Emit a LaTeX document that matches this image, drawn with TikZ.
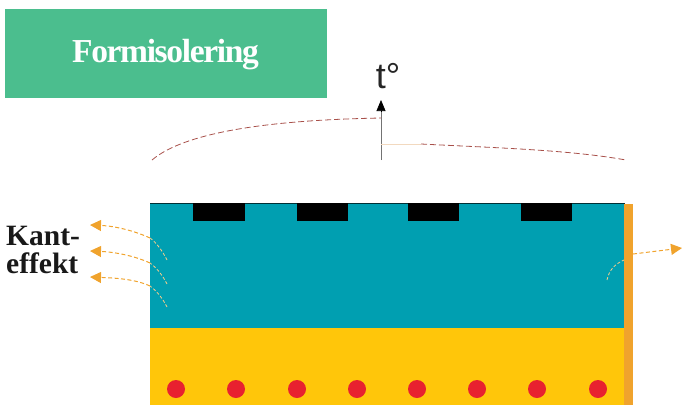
\documentclass[tikz,border=0pt]{standalone}
\usepackage{fontspec}
\setmainfont{Liberation Serif}
\setsansfont{Liberation Sans}
\usetikzlibrary{arrows.meta}
\definecolor{titlegreen}{HTML}{4BBE8E}
\definecolor{blockteal}{HTML}{009FB1}
\definecolor{blockyellow}{HTML}{FFC60A}
\definecolor{edgeorange}{HTML}{F0A32D}
\definecolor{dotred}{HTML}{E8212F}
\definecolor{curvered}{HTML}{A8504A}
\tikzset{
  heatarrow/.style={edgeorange, dash pattern=on 4pt off 2.5pt, line width=1pt, -{Triangle[length=11pt,width=11pt]}},
  heatinner/.style={edgeorange!55!white, densely dashed, line width=0.8pt},
  tempcurve/.style={curvered, dash pattern=on 6pt off 3pt, line width=0.8pt},
  padbox/.style={fill=black, inner sep=0pt, minimum height=18pt, anchor=north},
  wiredot/.style={circle, fill=dotred, inner sep=0pt, minimum size=18pt},
}
\begin{document}
\begin{tikzpicture}[x=1pt, y=-1pt, >=stealth]
	\useasboundingbox (0,0) rectangle (682,405);
	% Title
	\node[fill=titlegreen, text=white, inner sep=0pt, minimum width=322pt, minimum height=89pt] (title) at (166,53.5) {};
	\node[text=white, inner sep=0pt] (titletext) at (165.5,55) {\fontsize{33.5}{33.5}\selectfont\bfseries\addfontfeature{LetterSpace=-4}Formisolering};
	\node[text=black!85, inner sep=0pt] (tlabel) at (388,76) {\sffamily\fontsize{36}{36}\selectfont t°};

	% Block
	\fill[blockteal] (150,203) rectangle (625,328);
	\fill[blockyellow] (150,328) rectangle (625,405);
	\fill[edgeorange] (624,204) rectangle (633,405);
	\draw[black!70!blockteal, line width=0.7pt] (150,203) -- (625,203);
	\foreach \i/\px/\pw in {1/219/52, 2/322.5/51, 3/433.5/51, 4/546.5/51}
		\node[padbox, minimum width=\pw pt] (pad\i) at (\px,203) {};
	\foreach \i/\px in {1/176, 2/236, 3/297, 4/357, 5/417, 6/477, 7/537, 8/598}
		\node[wiredot] (dot\i) at (\px,389) {};

	% Temperature axis
	\coordinate (axisbase) at (381,160);
	\coordinate (axistop) at (381,100);
	\coordinate (leftend) at (152,160);
	\coordinate (axisleft) at (381,118);
	\coordinate (axisright) at (381,144);
	\coordinate (rightend) at (626,160);
	\draw[black!55, line width=0.7pt] (axisbase) -- (381,110);
	\draw[-{Triangle[length=11pt,width=9pt]}, black, line width=0.7pt] (381,112) -- (axistop);
	\draw[tempcurve] (leftend) .. controls (185,132) and (270,120) .. (axisleft);
	\draw[black!20!orange!25, line width=0.8pt] (axisright) -- (421,144);
	\draw[tempcurve] (421,144) .. controls (500,148) and (570,150) .. (rightend);

	% Edge arrows
	\foreach \i/\sy/\my/\ey in {1/260/238/225, 2/284/263/251, 3/307/286/277} {
		\coordinate (in\i) at (167,\sy);
		\coordinate (out\i) at (150,\my);
		\coordinate (tip\i) at (90,\ey);
		\draw[heatinner] (in\i) .. controls (163,\the\numexpr\sy-8\relax) and (157,\the\numexpr\my+5\relax) .. (out\i);
		\draw[heatarrow] (out\i) .. controls (135,\the\numexpr\my-7\relax) and (115,\the\numexpr\ey+1\relax) .. (tip\i);
	}
	\coordinate (inright) at (607,280);
	\coordinate (outright) at (633,254);
	\coordinate (tipright) at (682,248);
	\draw[heatinner] (inright) .. controls (609,270) and (615,264) .. (624,260);
	\draw[heatarrow] (outright) -- (tipright);

	% Label
	\node[align=left, anchor=west, inner sep=0pt, font=\bfseries\fontsize{29.5}{28}\selectfont, text=black!90] (kant) at (6,250) {Kant-\\effekt};
\end{tikzpicture}
\end{document}
